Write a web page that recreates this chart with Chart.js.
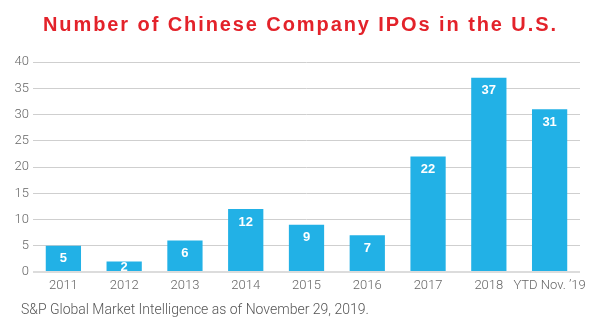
<!DOCTYPE html>
<html>
<head>
<meta charset="utf-8">
<script src="https://cdn.jsdelivr.net/npm/chart.js@4/dist/chart.umd.min.js"></script>
<style>
  html, body { margin: 0; padding: 0; background: #fff; }
  #wrap { width: 600px; height: 333px; position: relative; }
</style>
</head>
<body>
<div id="wrap"><canvas id="ipoChart" width="600" height="333"></canvas></div>
<script>
const years = ['2011', '2012', '2013', '2014', '2015', '2016', '2017', '2018', 'YTD Nov. \u201919'];
const ipoCounts = [5, 2, 6, 12, 9, 7, 22, 37, 31];
const yTicks = [0, 5, 10, 15, 20, 25, 30, 35, 40];

const titleText = 'Number of Chinese Company IPOs in the U.S.';
const sourceText = 'S&P Global Market Intelligence as of November 29, 2019.';

const axisFont = { family: 'Roboto, "Liberation Sans", Arial, sans-serif', size: 13, weight: '300' };

// title + source line, plus white value labels inside each bar
const extras = {
    id: 'extras',
    afterDraw(chart) {
        const ctx = chart.ctx;
        ctx.save();

        // spaced-out red headline
        ctx.font = 'bold 20px "Liberation Sans", Arial, sans-serif';
        const plain = ctx.measureText(titleText).width;
        const spacing = (513 - plain) / (titleText.length - 1);
        ctx.letterSpacing = spacing + 'px';
        ctx.fillStyle = '#e3222a';
        ctx.textBaseline = 'middle';
        ctx.textAlign = 'left';
        ctx.fillText(titleText, 43, 25);
        ctx.letterSpacing = '0px';

        ctx.font = '300 14px Roboto, "Liberation Sans", Arial, sans-serif';
        ctx.fillStyle = '#555';
        ctx.fillText(sourceText, 21, 310);

        // value labels
        const meta = chart.getDatasetMeta(0);
        ctx.font = 'bold 13px "Liberation Sans", Arial, sans-serif';
        ctx.fillStyle = '#fff';
        ctx.textAlign = 'center';
        meta.data.forEach((bar, i) => {
            const h = bar.base - bar.y;
            const y = h < 24 ? (bar.y + bar.base) / 2 + 1 : bar.y + 13;
            ctx.fillText(String(ipoCounts[i]), bar.x, y);
        });
        ctx.restore();
    }
};

new Chart(document.getElementById('ipoChart'), {
    type: 'bar',
    data: {
        labels: years,
        datasets: [{
            data: ipoCounts,
            backgroundColor: '#22b1e6',
            borderWidth: 0,
            categoryPercentage: 1.0,
            barPercentage: 0.58
        }]
    },
    options: {
        responsive: false,
        animation: false,
        events: [],
        layout: { padding: { top: 62, right: 20, left: 0, bottom: 0 } },
        plugins: {
            legend: { display: false },
            tooltip: { enabled: false },
            title: { display: false }
        },
        scales: {
            x: {
                grid: { display: false, drawTicks: false },
                border: { display: false },
                ticks: {
                    color: '#666',
                    padding: 6,
                    maxRotation: 0,
                    autoSkip: false,
                    font: axisFont
                },
                afterFit(scale) { scale.height = 61; }
            },
            y: {
                min: 0,
                max: 40,
                afterBuildTicks(scale) { scale.ticks = yTicks.map(v => ({ value: v })); },
                grid: {
                    color: ctx => ctx.tick && ctx.tick.value === 0 ? '#dcdcdc' : '#cfcfcf',
                    lineWidth: ctx => ctx.tick && ctx.tick.value === 0 ? 2 : 1,
                    drawTicks: false
                },
                border: { display: false },
                ticks: {
                    color: '#666',
                    padding: 4,
                    font: axisFont
                },
                afterFit(scale) { scale.width = 33; }
            }
        }
    },
    plugins: [extras]
});
</script>
</body>
</html>
